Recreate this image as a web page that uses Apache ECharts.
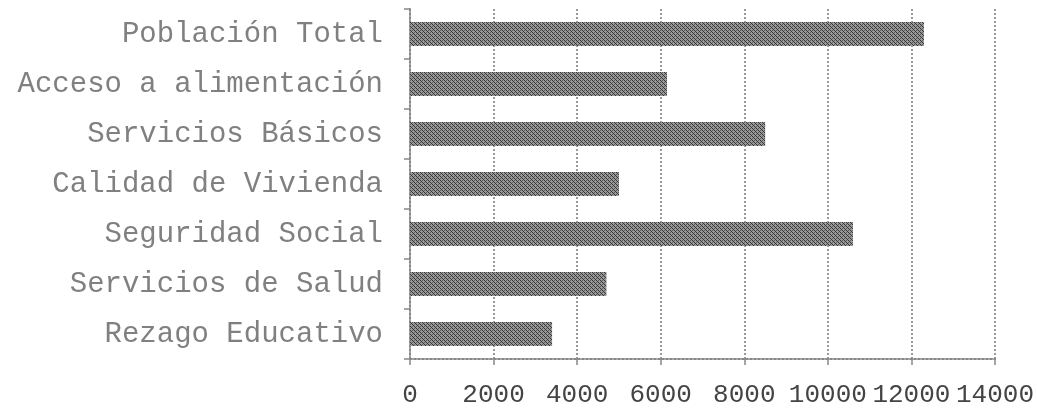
<!DOCTYPE html>
<html>
<head>
<meta charset="utf-8">
<script src="https://cdn.jsdelivr.net/npm/echarts@6/dist/echarts.min.js"></script>
<style>
  html, body { margin: 0; padding: 0; background: #fff; }
  #chart { width: 1037px; height: 410px; }
</style>
</head>
<body>
<div id="chart"></div>
<script>
const categories = [
    'Población Total',
    'Acceso a alimentación',
    'Servicios Básicos',
    'Calidad de Vivienda',
    'Seguridad Social',
    'Servicios de Salud',
    'Rezago Educativo'
];
const values = [12300, 6150, 8500, 5000, 10600, 4700, 3400];
const xTicks = [0, 2000, 4000, 6000, 8000, 10000, 12000, 14000];

// patrón punteado para las barras
const makePattern = () => {
    const c = document.createElement('canvas');
    c.width = 4;
    c.height = 4;
    const ctx = c.getContext('2d');
    ctx.fillStyle = '#9a9a9a';
    ctx.fillRect(0, 0, 4, 4);
    ctx.fillStyle = '#333';
    ctx.fillRect(0, 0, 1, 1);
    ctx.fillRect(2, 2, 1, 1);
    ctx.fillRect(1, 1, 1, 1);
    ctx.fillRect(3, 3, 1, 1);
    ctx.fillStyle = '#5a5a5a';
    ctx.fillRect(2, 0, 1, 1);
    ctx.fillRect(0, 2, 1, 1);
    return c;
};

const chartDom = document.getElementById('chart');
const myChart = echarts.init(chartDom, null, { renderer: 'canvas' });

const options = {
    animation: false,
    grid: {
        left: 410,
        right: 41,
        top: 9,
        bottom: 51,
        containLabel: false
    },
    xAxis: {
        type: 'value',
        min: xTicks[0],
        max: xTicks[xTicks.length - 1],
        interval: 2000,
        axisLine: { show: true, lineStyle: { color: '#888', width: 2, type: 'dotted' } },
        axisTick: { show: true, length: 6, lineStyle: { color: '#888', width: 1.5 } },
        splitLine: { show: true, lineStyle: { color: '#999', width: 2, type: 'dotted' } },
        axisLabel: {
            margin: 23,
            color: '#444',
            fontFamily: 'Liberation Mono',
            fontSize: 26,
            showMaxLabel: true,
            hideOverlap: false,
            formatter: (v) => String(v)
        }
    },
    yAxis: {
        type: 'category',
        inverse: true,
        data: categories,
        axisLine: { show: true, lineStyle: { color: '#888', width: 2, type: 'dotted' } },
        axisTick: { show: true, length: 6, lineStyle: { color: '#888', width: 1.5 } },
        axisLabel: {
            margin: 27,
            color: '#808080',
            fontFamily: 'Liberation Mono',
            fontSize: 29
        }
    },
    series: [
        {
            type: 'bar',
            data: values,
            barWidth: 24,
            itemStyle: {
                color: { image: makePattern(), repeat: 'repeat' }
            }
        }
    ]
};

myChart.setOption(options);
</script>
</body>
</html>
